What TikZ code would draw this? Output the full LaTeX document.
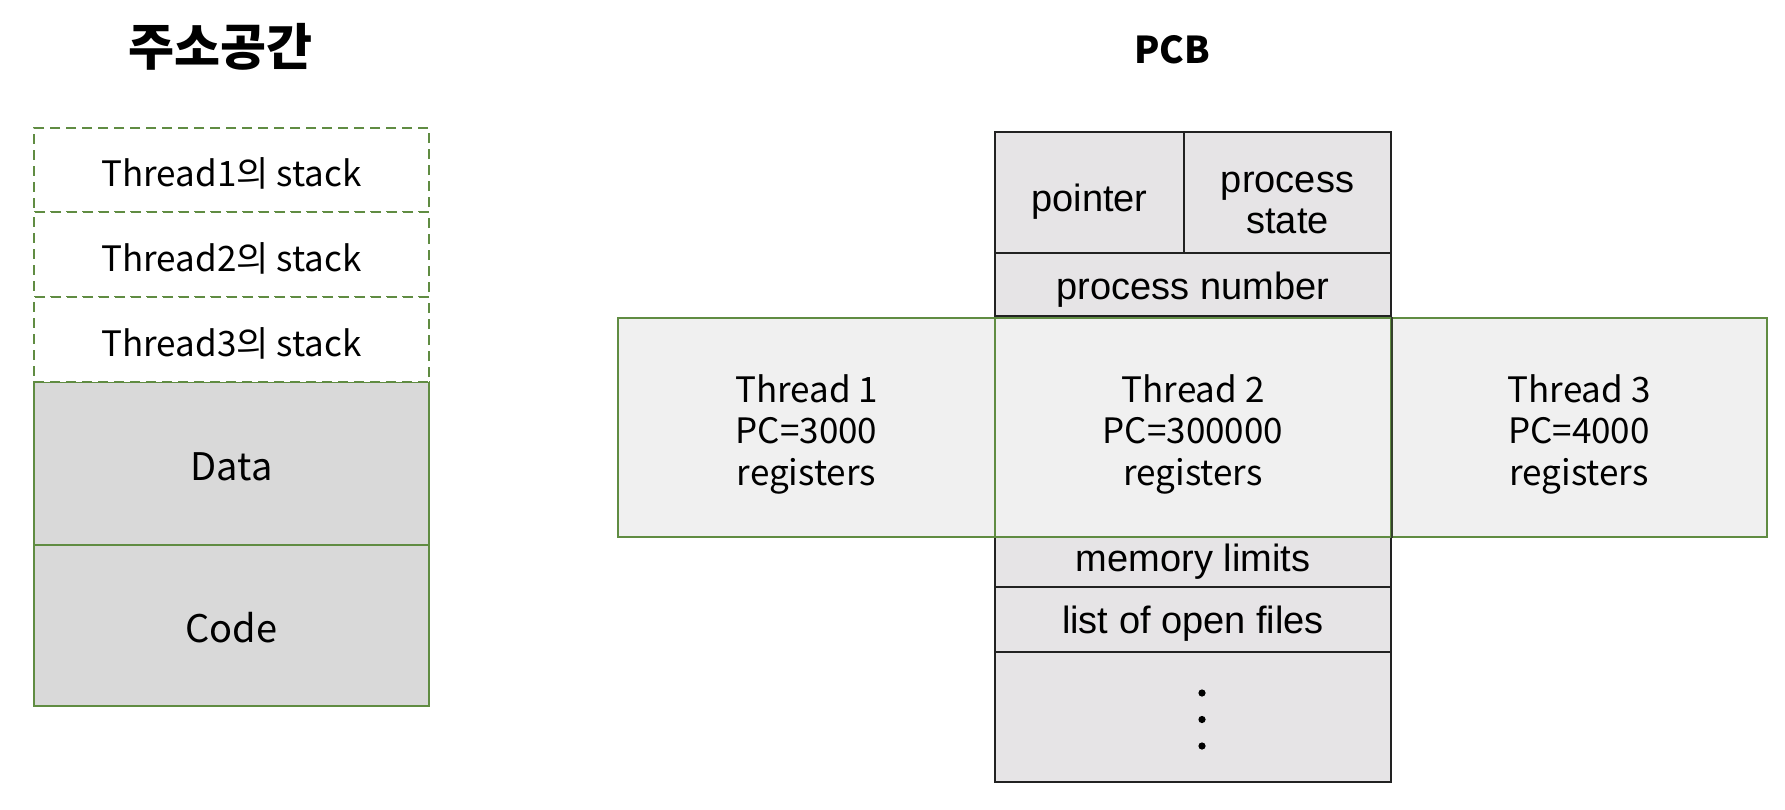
\documentclass[tikz,border=0pt]{standalone}
\usepackage{fontspec}
\newfontfamily\kr{Noto Sans CJK KR}
\newfontfamily\arial{Liberation Sans}
\definecolor{grn}{RGB}{96,140,66}
\definecolor{grayfill}{RGB}{217,217,217}
\definecolor{thfill}{RGB}{240,240,240}
\definecolor{pcbfill}{RGB}{230,228,230}
\definecolor{pcbline}{RGB}{34,34,34}
\begin{document}
\begin{tikzpicture}[x=1pt,y=-1pt,
  stackbox/.style={draw=grn, line width=2pt, dash pattern=on 10pt off 6pt, fill=white, inner sep=0pt},
  stacktext/.style={inner sep=0pt, font=\kr\fontsize{35}{40}\selectfont},
  segbox/.style={draw=grn, line width=2.5pt, fill=grayfill, inner sep=0pt},
  segtext/.style={inner sep=0pt, font=\kr\fontsize{38}{44}\selectfont},
  pcbcell/.style={draw=pcbline, line width=2.8pt, fill=pcbfill, inner sep=0pt},
  pcbtext/.style={inner sep=0pt, align=center, font=\arial\fontsize{38}{41}\selectfont},
  thbox/.style={draw=grn, line width=2.2pt, fill=thfill, inner sep=0pt},
  thtext/.style={inner sep=0pt, align=center, font=\kr\fontsize{35}{41.5}\selectfont},
  titletext/.style={inner sep=0pt}
]
\fill[white] (0,0) rectangle (1785,809);
\useasboundingbox (0,0) rectangle (1785,809);

% titles
\node[titletext, font=\kr\bfseries\fontsize{50}{54}\selectfont] (t1) at (220,47) {주소공간};
\node[titletext, font=\kr\bfseries\fontsize{37}{40}\selectfont] (t2) at (1172,50) {PCB};

% address space
\node[segbox, minimum width=395pt, minimum height=163pt] (data) at (231.5,463.5) {};
\node[segbox, minimum width=395pt, minimum height=161pt] (code) at (231.5,625.5) {};
\node[stackbox, minimum width=395pt, minimum height=84pt] (s1) at (231.5,170) {};
\node[stackbox, minimum width=395pt, minimum height=85pt] (s2) at (231.5,254.5) {};
\node[stackbox, minimum width=395pt, minimum height=85pt] (s3) at (231.5,339.5) {};
\node[segtext] (datat) at ([yshift=-3pt]data.center) {Data};
\node[segtext] (codet) at ([yshift=-2pt]code.center) {Code};
\node[stacktext] (s1t) at ([yshift=-3.5pt]s1.center) {Thread1의 stack};
\node[stacktext] (s2t) at ([yshift=-3.5pt]s2.center) {Thread2의 stack};
\node[stacktext] (s3t) at ([yshift=-3.5pt]s3.center) {Thread3의 stack};

% PCB
\node[pcbcell, minimum width=189pt, minimum height=121pt] (ptr) at (1089.5,192.5) {};
\node[pcbcell, minimum width=207pt, minimum height=121pt] (pst) at (1287.5,192.5) {};
\node[pcbcell, minimum width=396pt, minimum height=63pt] (pnum) at (1193,284.5) {};
\node[pcbcell, minimum width=396pt, minimum height=50pt] (mem) at (1193,562) {};
\node[pcbcell, minimum width=396pt, minimum height=65pt] (files) at (1193,619.5) {};
\node[pcbcell, minimum width=396pt, minimum height=130pt] (more) at (1193,717) {};
\node[pcbtext] (ptrt) at ([yshift=-9pt]ptr.center) {pointer};
\node[pcbtext] (pstt) at ([yshift=-10pt]pst.center) {process\\state};
\node[pcbtext] (pnumt) at ([yshift=-5pt]pnum.center) {process number};
\node[pcbtext] (memt) at ([yshift=0pt]mem.center) {memory limits};
\node[pcbtext] (filest) at ([yshift=-4.5pt]files.center) {list of open files};
\fill[black] (1202,693) circle (3.6pt) (1202,719.5) circle (3.6pt) (1202,746) circle (3.6pt);

% threads
\node[thbox, minimum width=377pt, minimum height=219pt] (th1) at (806.5,427.5) {};
\node[thbox, minimum width=376pt, minimum height=219pt] (th3) at (1579,427.5) {};
\node[thbox, minimum width=396pt, minimum height=219pt] (th2) at (1193,427.5) {};
\draw[pcbline!70!grn, line width=2.4pt] (th2.north east) -- (th2.south east);
\node[thtext] (th1t) at ([yshift=-6.5pt]th1.center) {Thread 1\\PC=3000\\registers};
\node[thtext] (th2t) at ([yshift=-6.5pt]th2.center) {Thread 2\\PC=300000\\registers};
\node[thtext] (th3t) at ([yshift=-6.5pt]th3.center) {Thread 3\\PC=4000\\registers};
\end{tikzpicture}
\end{document}
